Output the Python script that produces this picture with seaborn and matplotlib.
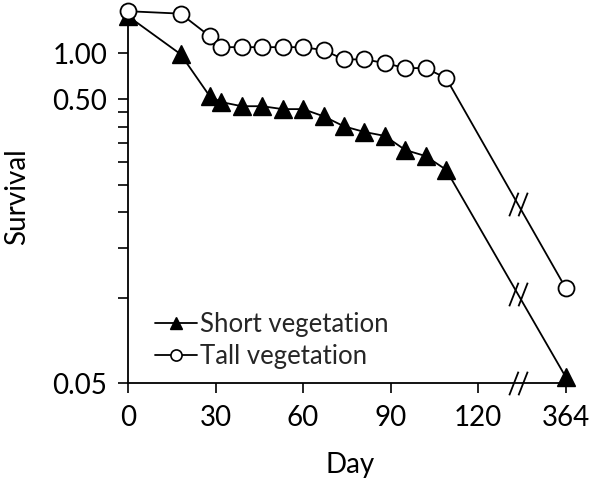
import numpy as np
import pandas as pd
import matplotlib
matplotlib.use("Agg")
import matplotlib.pyplot as plt
import seaborn as sns
from matplotlib.path import Path
from matplotlib.lines import Line2D

# ---------------- data ----------------
days = [0, 18, 28, 32, 39, 46, 53, 60, 67, 74, 81, 88, 95, 102, 109, 364]
short_veg = [0.98, 0.72, 0.512, 0.488, 0.472, 0.472, 0.461, 0.461, 0.435,
             0.401, 0.383, 0.371, 0.331, 0.315, 0.282, 0.0525]
tall_veg = [1.02, 1.0, 0.833, 0.762, 0.762, 0.762, 0.762, 0.762, 0.744,
            0.69, 0.69, 0.67, 0.643, 0.643, 0.593, 0.108]
series_names = ["Short vegetation", "Tall vegetation"]
xtick_labels = ["0", "30", "60", "90", "120", "364"]
ytick_major = [0.05, 0.5]
ytick_major_labels = ["0.05", "0.50"]
ytick_minor = [0.10, 0.15, 0.20, 0.25, 0.30, 0.35, 0.40, 0.45]

# axis break: days beyond 120 are drawn at position 150, break drawn at 133.5
LAST_REGULAR = 120
BREAK_POS = 150
BREAK_MARK = 133.5

sns.set_theme(style="white")
plt.rcParams["font.family"] = ["Lato", "DejaVu Sans"]
FS = 20
FS_LEG = 18.5

days_arr = np.array(days, dtype=float)
xpos = np.where(days_arr > LAST_REGULAR, BREAK_POS, days_arr)

df = pd.DataFrame({
    "pos": np.concatenate([xpos, xpos]),
    "survival": short_veg + tall_veg,
    "group": [series_names[0]] * len(days) + [series_names[1]] * len(days),
})

fig = plt.figure(figsize=(5.9, 4.87), dpi=100)
ax = fig.add_axes([128 / 590, 1 - 383 / 487, 445 / 590, 373 / 487])

sub_s = df[df.group == series_names[0]]
sub_t = df[df.group == series_names[1]]
sns.lineplot(data=sub_s, x="pos", y="survival", ax=ax, color="black", lw=1.3,
             marker="^", markersize=13, markerfacecolor="black",
             markeredgecolor="black", markeredgewidth=1.0, clip_on=False,
             sort=False, estimator=None, legend=False, zorder=3)
sns.lineplot(data=sub_t, x="pos", y="survival", ax=ax, color="black", lw=1.3,
             marker="o", markersize=11.5, markerfacecolor="white",
             markeredgecolor="black", markeredgewidth=1.3, clip_on=False,
             sort=False, estimator=None, legend=False, zorder=4)

ax.set_yscale("log")
ax.set_xlim(0, 152.5)
ax.set_ylim(0.05, 1.03)

# break marks "//"
brk = Path([(-9, -11.5), (0, 11.5), (0, -11.5), (9, 11.5)],
           [Path.MOVETO, Path.LINETO, Path.MOVETO, Path.LINETO])
for vals in (short_veg, tall_veg):
    # position on the segment joining the last regular point and the 364 point
    t = (BREAK_MARK - xpos[-2]) / (xpos[-1] - xpos[-2])
    yb = 10 ** (np.log10(vals[-2]) + t * (np.log10(vals[-1]) - np.log10(vals[-2])))
    ax.plot([BREAK_MARK], [yb], marker=brk, markersize=17, color="black",
            markeredgewidth=1.3, linestyle="none", zorder=5, clip_on=False)
ax.plot([BREAK_MARK], [0.05], marker=brk, markersize=17, color="black",
        markeredgewidth=1.3, linestyle="none", zorder=5, clip_on=False)

# ticks
ax.set_xticks([0, 30, 60, 90, LAST_REGULAR, BREAK_POS])
ax.set_xticklabels(xtick_labels)
ax.set_yticks(ytick_major + [0.726])
ax.set_yticklabels(ytick_major_labels + ["1.00"])
ax.set_yticks(ytick_minor, minor=True)
ax.yaxis.set_minor_formatter(matplotlib.ticker.NullFormatter())
ax.yaxis.get_major_ticks()[2].tick1line.set_visible(False)

ax.tick_params(axis="both", which="both", direction="out", length=7,
               width=1.2, color="black", labelsize=FS, labelcolor="black")
ax.tick_params(axis="x", which="both", bottom=True, pad=9)
ax.tick_params(axis="y", which="both", left=True, pad=8)
ax.tick_params(axis="x", which="minor", bottom=False)

for s in ["top", "right"]:
    ax.spines[s].set_visible(False)
for s in ["left", "bottom"]:
    ax.spines[s].set_color("black")
    ax.spines[s].set_linewidth(1.3)

ax.set_xlabel("Day", fontsize=FS, color="black", labelpad=15)
ax.set_ylabel("Survival", fontsize=FS, color="black", labelpad=16)
ax.grid(False)

handles = [
    Line2D([], [], color="black", lw=1.3, marker="^", markersize=9,
           markerfacecolor="black", markeredgecolor="black"),
    Line2D([], [], color="black", lw=1.3, marker="o", markersize=8,
           markerfacecolor="white", markeredgecolor="black", markeredgewidth=1.2),
]
ax.legend(handles, series_names, loc="upper left", bbox_to_anchor=(0.06, 0.19),
          frameon=False, fontsize=FS_LEG, handlelength=1.65, handletextpad=0.12,
          labelspacing=0.28, borderpad=0, borderaxespad=0)

fig.savefig("out.png", dpi=100)
